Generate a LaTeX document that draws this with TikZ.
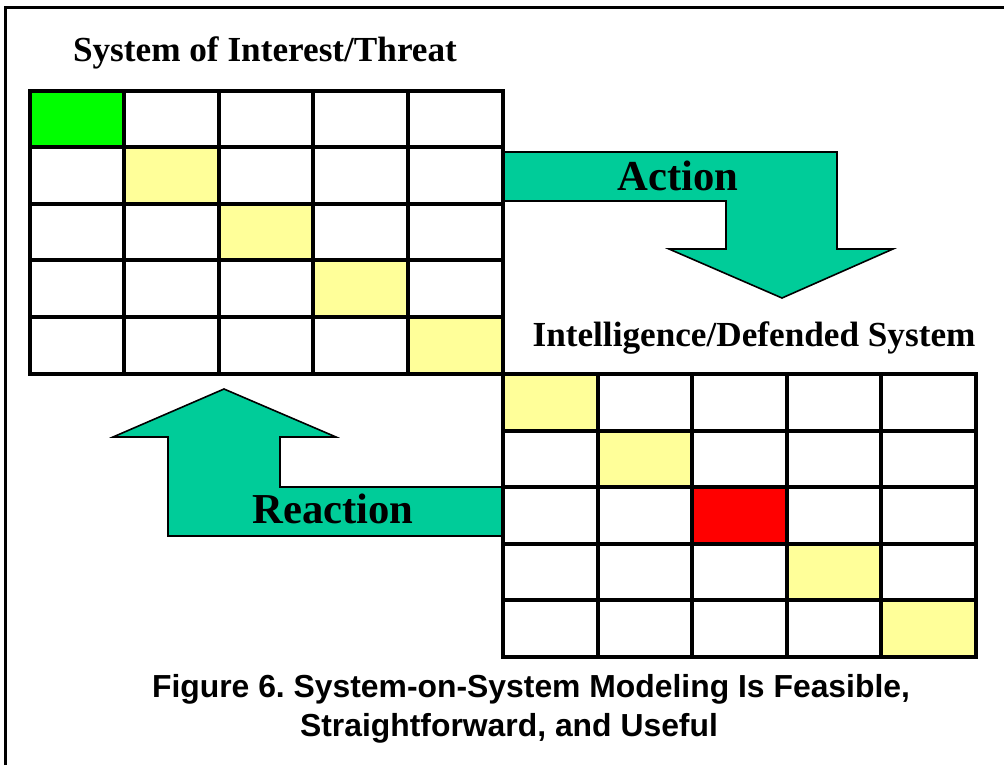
\documentclass[tikz,border=0pt]{standalone}
\usepackage{fontspec}
\setmainfont{Liberation Serif}
\newfontfamily\capfont{Liberation Sans}
\definecolor{flow}{HTML}{00CC99}
\definecolor{mark}{HTML}{FFFF99}
\definecolor{go}{HTML}{00FF00}
\definecolor{alert}{HTML}{FF0000}
\frenchspacing
\tikzset{
  cell/.style={
    draw=black,
    line width=3pt,
    minimum width=70.9pt,
    minimum height=42.4pt,
    inner sep=0pt,
    outer sep=0pt
  },
  flowArrow/.style={fill=flow,draw=black,line width=1.2pt,line join=miter},
  gridTitle/.style={font=\bfseries\fontsize{26.4}{30}\selectfont},
  arrowLabel/.style={font=\bfseries\fontsize{32}{36}\selectfont},
  caption/.style={font=\capfont\bfseries\fontsize{23.9}{28}\selectfont}
}
\begin{document}
\begin{tikzpicture}[x=0.75pt,y=-0.75pt]
  \useasboundingbox (0,0) rectangle (1004,765);
  % page frame, only top and left edges show
  \draw[line width=2.25pt] (5,765) -- (5,7) -- (1004,7);

  % block arrows sit under the grid borders
  \path[flowArrow] (503,152) -- (837,152) -- (837,249) -- (893,249)
    -- (782,298) -- (669,249) -- (726,249) -- (726,201) -- (503,201) -- cycle;
  \path[flowArrow] (224,389) -- (336,437) -- (280,437) -- (280,487)
    -- (502,487) -- (502,536) -- (168,536) -- (168,437) -- (113,437) -- cycle;

  \node[arrowLabel] (actionLabel) at (678,176) {Action};
  \node[arrowLabel] (reactionLabel) at (333,509) {Reaction};

  % threat system matrix
  \foreach \r/\tone in {0/go,1/mark,2/mark,3/mark,4/mark}{
    \foreach \c in {0,...,4}{
      \ifnum\r=\c \def\cellfill{\tone}\else\def\cellfill{white}\fi
      \node[cell,fill=\cellfill] (threat-\r-\c)
        at ({30+94.5*(\c+0.5)},{91+56.5*(\r+0.5)}) {};
    }
  }
  % defended system matrix
  \foreach \r/\tone in {0/mark,1/mark,2/alert,3/mark,4/mark}{
    \foreach \c in {0,...,4}{
      \ifnum\r=\c \def\cellfill{\tone}\else\def\cellfill{white}\fi
      \node[cell,fill=\cellfill] (defended-\r-\c)
        at ({503+94.6*(\c+0.5)},{374+56.6*(\r+0.5)}) {};
    }
  }

  \node[gridTitle] (threatTitle) at (265,53) {System of Interest/Threat};
  \node[gridTitle] (defendedTitle) at (754,338) {Intelligence/Defended System};

  \node[caption] (captionTop) at (531,689) {Figure 6. System-on-System Modeling Is Feasible,};
  \node[caption] (captionBottom) at (509,728) {Straightforward, and Useful};
\end{tikzpicture}
\end{document}
